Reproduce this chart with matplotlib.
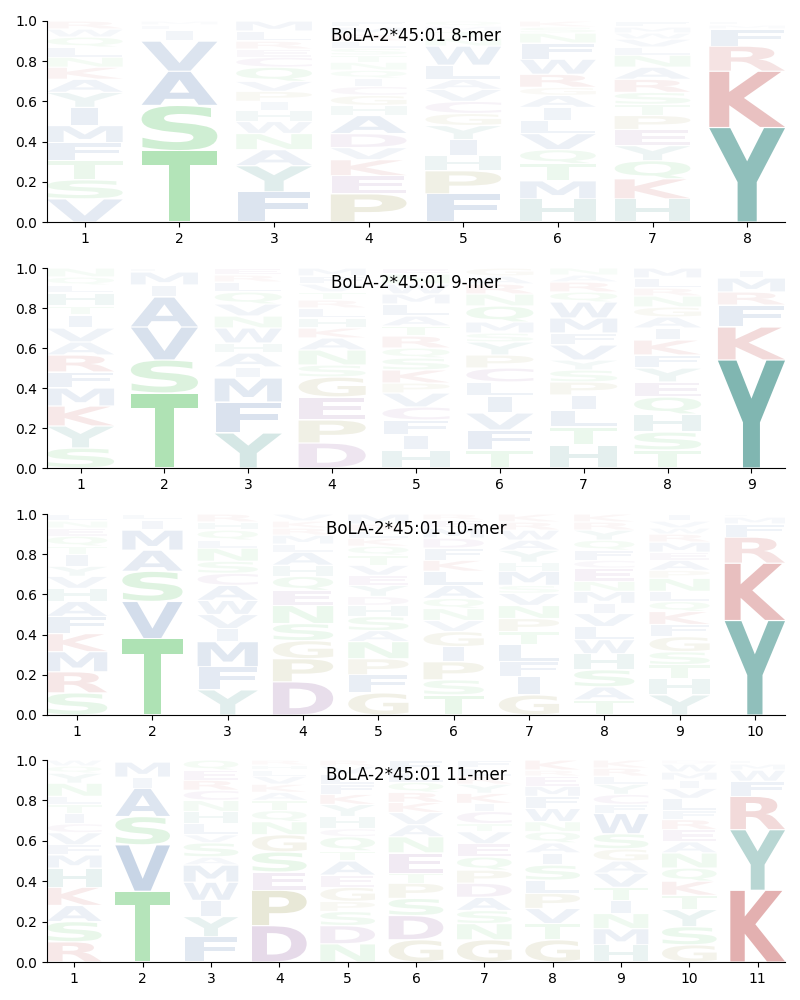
import matplotlib
matplotlib.use("Agg")
import matplotlib.pyplot as plt
from matplotlib.textpath import TextPath
from matplotlib.patches import PathPatch
from matplotlib.font_manager import FontProperties
from matplotlib.transforms import Affine2D

# ---------------- data (bottom -> top per position) ----------------
titles = ["BoLA-2*45:01 8-mer", "BoLA-2*45:01 9-mer",
          "BoLA-2*45:01 10-mer", "BoLA-2*45:01 11-mer"]

letters_8 = ["VSTFMIYAKNLQWR", "TSAVILM", "FYANWHIPVQCERLM",
             "PEKVDAHGCIQNTSLRMF", "FPHIYGCVALWNTMQ", "HMTQVLIAGRWFNSK",
             "HKQYEPTSRANLVWMF", "YKRFML"]
freqs_8 = [
    [.115, .095, .095, .09, .085, .09, .075, .065, .06, .05, .05, .05, .04, .04],
    [.355, .225, .17, .15, .055, .025, .02],
    [.15, .13, .08, .08, .06, .055, .045, .05, .05, .07, .05, .04, .04, .05, .05],
    [.14, .09, .08, .06, .07, .09, .05, .05, .045, .04, .04, .04, .035, .035, .035, .035, .035, .03],
    [.14, .115, .075, .08, .07, .06, .06, .06, .05, .07, .095, .04, .035, .025, .025],
    [.115, .09, .085, .07, .08, .065, .065, .06, .04, .065, .075, .08, .05, .03, .03],
    [.115, .10, .09, .075, .08, .07, .055, .06, .065, .06, .06, .04, .04, .03, .03, .03],
    [.47, .28, .125, .085, .02, .02],
]

letters_9 = ["SYKMFRAVITHLQN", "TSVAIML", "YFMIAHWNVQLRE",
             "DPEGSNAKHLRTVFM", "HIFCVPKSQRTALMWNE", "TFVILCPYSMQNRAG",
             "HTLIPSYVFMWQRAN", "TSHQEYFKIAGNRLM", "YKFRMIL"]
freqs_9 = [
    [.10, .11, .10, .09, .08, .085, .065, .07, .065, .045, .065, .04, .04, .045],
    [.375, .165, .165, .15, .06, .065, .02],
    [.175, .155, .12, .055, .07, .05, .075, .06, .06, .06, .05, .035, .035],
    [.125, .115, .115, .10, .06, .075, .06, .05, .05, .05, .04, .04, .04, .04, .04],
    [.09, .075, .075, .065, .07, .05, .065, .06, .05, .06, .05, .05, .06, .05, .05, .05, .03],
    [.09, .10, .085, .085, .07, .07, .065, .065, .045, .055, .08, .06, .05, .04, .04],
    [.115, .09, .085, .075, .065, .06, .05, .075, .06, .075, .08, .05, .05, .035, .035],
    [.09, .09, .09, .085, .075, .07, .065, .075, .06, .055, .05, .055, .04, .05, .05],
    [.54, .165, .11, .065, .07, .04, .01],
]

letters_10 = ["SRMKFAHVYITQENL", "TVSAMIL", "YFMIVWACSNLQHR",
              "DPGSNEQHALMRKV", "GFPNASHDYEVTQKLRM", "TSPIGVNQALKFDMER",
              "GIFLTPNVSMHYAWRK", "TASHWLVIMNECFQYRK",
              "YHTSGFKQLNPAEMRWVI", "YKRFML"]
freqs_10 = [
    [.11, .105, .10, .09, .085, .075, .065, .06, .05, .06, .04, .05, .04, .035, .035],
    [.38, .185, .15, .105, .10, .05, .03],
    [.125, .115, .125, .065, .07, .07, .075, .06, .06, .065, .04, .05, .04, .04],
    [.165, .115, .09, .085, .09, .075, .07, .055, .065, .04, .045, .035, .035, .035],
    [.11, .09, .08, .085, .055, .07, .055, .045, .055, .05, .05, .05, .045, .04, .035, .035, .05],
    [.10, .075, .09, .075, .075, .055, .06, .05, .065, .07, .055, .06, .05, .05, .04, .03],
    [.10, .09, .075, .085, .065, .065, .065, .06, .04, .07, .045, .06, .05, .05, .04, .04],
    [.075, .065, .085, .08, .07, .065, .065, .05, .06, .05, .065, .04, .05, .05, .05, .04, .04],
    [.10, .08, .07, .065, .075, .06, .065, .05, .05, .065, .04, .05, .04, .05, .04, .03, .035, .035],
    [.47, .285, .13, .065, .035, .015],
]

letters_11 = ["RSAKHMFVCITLNYQW", "TVSAIML", "FYIWMASVLHNCREQ",
              "DPESGNQTAKVLHR", "NDSPGEATQCHYKFLVR", "GDSPTENAVKRQLF",
              "GNSADPQEVTCIKYRLF", "GTVPLSIAQNWFMERK",
              "HMNITVAGSWFCYLRK", "GSYTKQNAERFLVIMWD", "KYRFWML"]
freqs_11 = [
    [.10, .10, .08, .09, .095, .065, .05, .06, .045, .05, .045, .04, .065, .05, .035, .03],
    [.35, .23, .14, .14, .055, .075, .01],
    [.125, .10, .08, .09, .085, .04, .07, .04, .055, .06, .055, .05, .05, .05, .05],
    [.18, .175, .09, .10, .085, .065, .055, .05, .04, .04, .04, .03, .025, .025],
    [.09, .09, .07, .05, .07, .06, .07, .05, .07, .04, .06, .06, .05, .05, .05, .04, .03],
    [.11, .12, .085, .075, .05, .10, .08, .06, .06, .05, .05, .05, .05, .06],
    [.11, .08, .065, .065, .07, .065, .065, .065, .06, .04, .06, .04, .05, .045, .04, .04, .04],
    [.11, .08, .075, .075, .065, .075, .06, .05, .055, .05, .065, .06, .05, .05, .03, .05],
    [.085, .08, .075, .065, .065, .07, .06, .06, .075, .10, .045, .05, .05, .04, .04, .04],
    [.085, .09, .085, .07, .07, .065, .075, .055, .06, .05, .045, .06, .05, .04, .04, .04, .02],
    [.355, .30, .165, .075, .055, .03, .02],
]

panels = [(titles[0], letters_8, freqs_8), (titles[1], letters_9, freqs_9),
          (titles[2], letters_10, freqs_10), (titles[3], letters_11, freqs_11)]

# amino-acid colour groups
group_letters = ["AVLIMFW", "STNQ", "YH", "KR", "DEC", "PG"]
group_colors = ["#144b96", "#2cb43a", "#147870", "#b22222", "#78378a", "#827d1e"]
aa_color = {}
for letters, col in zip(group_letters, group_colors):
    for ch in letters:
        aa_color[ch] = col

# ---------------- drawing ----------------
fp = FontProperties(family="DejaVu Sans", weight="bold")
ext_I = TextPath((0, 0), "I", size=1, prop=fp).get_extents()
COL_W = 0.8
cap = 0.285 / ext_I.width
PAD = 0.003


def draw_letter(ax, ch, x, y0, h, color, alpha):
    path = TextPath((0, 0), ch, size=1, prop=fp)
    ext = path.get_extents()
    w = min(COL_W, ext.width * cap)
    hh = max(h - 2 * PAD, 1e-4)
    tr = (Affine2D().translate(-ext.x0, -ext.y0)
          .scale(w / ext.width, hh / ext.height)
          .translate(x - w / 2, y0 + PAD))
    ax.add_patch(PathPatch(tr.transform_path(path), facecolor=color,
                           edgecolor="none", alpha=min(1.0, alpha)))


fig = plt.figure(figsize=(8, 10), dpi=100)
axes_rects = [(21, 222), (268, 468), (514, 715), (760, 962)]
for (top, bottom), (title, letters, freqs) in zip(axes_rects, panels):
    ax = fig.add_axes([47 / 800, 1 - bottom / 1000, (785 - 47) / 800,
                       (bottom - top) / 1000])
    n = len(letters)
    for i in range(n):
        pos = i + 1
        y = 0.0
        for ch, f in zip(letters[i], freqs[i]):
            draw_letter(ax, ch, pos, y, f, aa_color[ch], f)
            y += f
    ax.set_xlim(0.6, n + 0.4)
    ax.set_ylim(0, 1)
    ax.set_xticks(range(1, n + 1))
    ax.set_yticks([0, 0.2, 0.4, 0.6, 0.8, 1.0])
    ax.spines["top"].set_visible(False)
    ax.spines["right"].set_visible(False)
    ax.text(0.5, 0.925, title, transform=ax.transAxes, ha="center",
            va="center", fontsize=12)

fig.savefig("out.png", dpi=100)
